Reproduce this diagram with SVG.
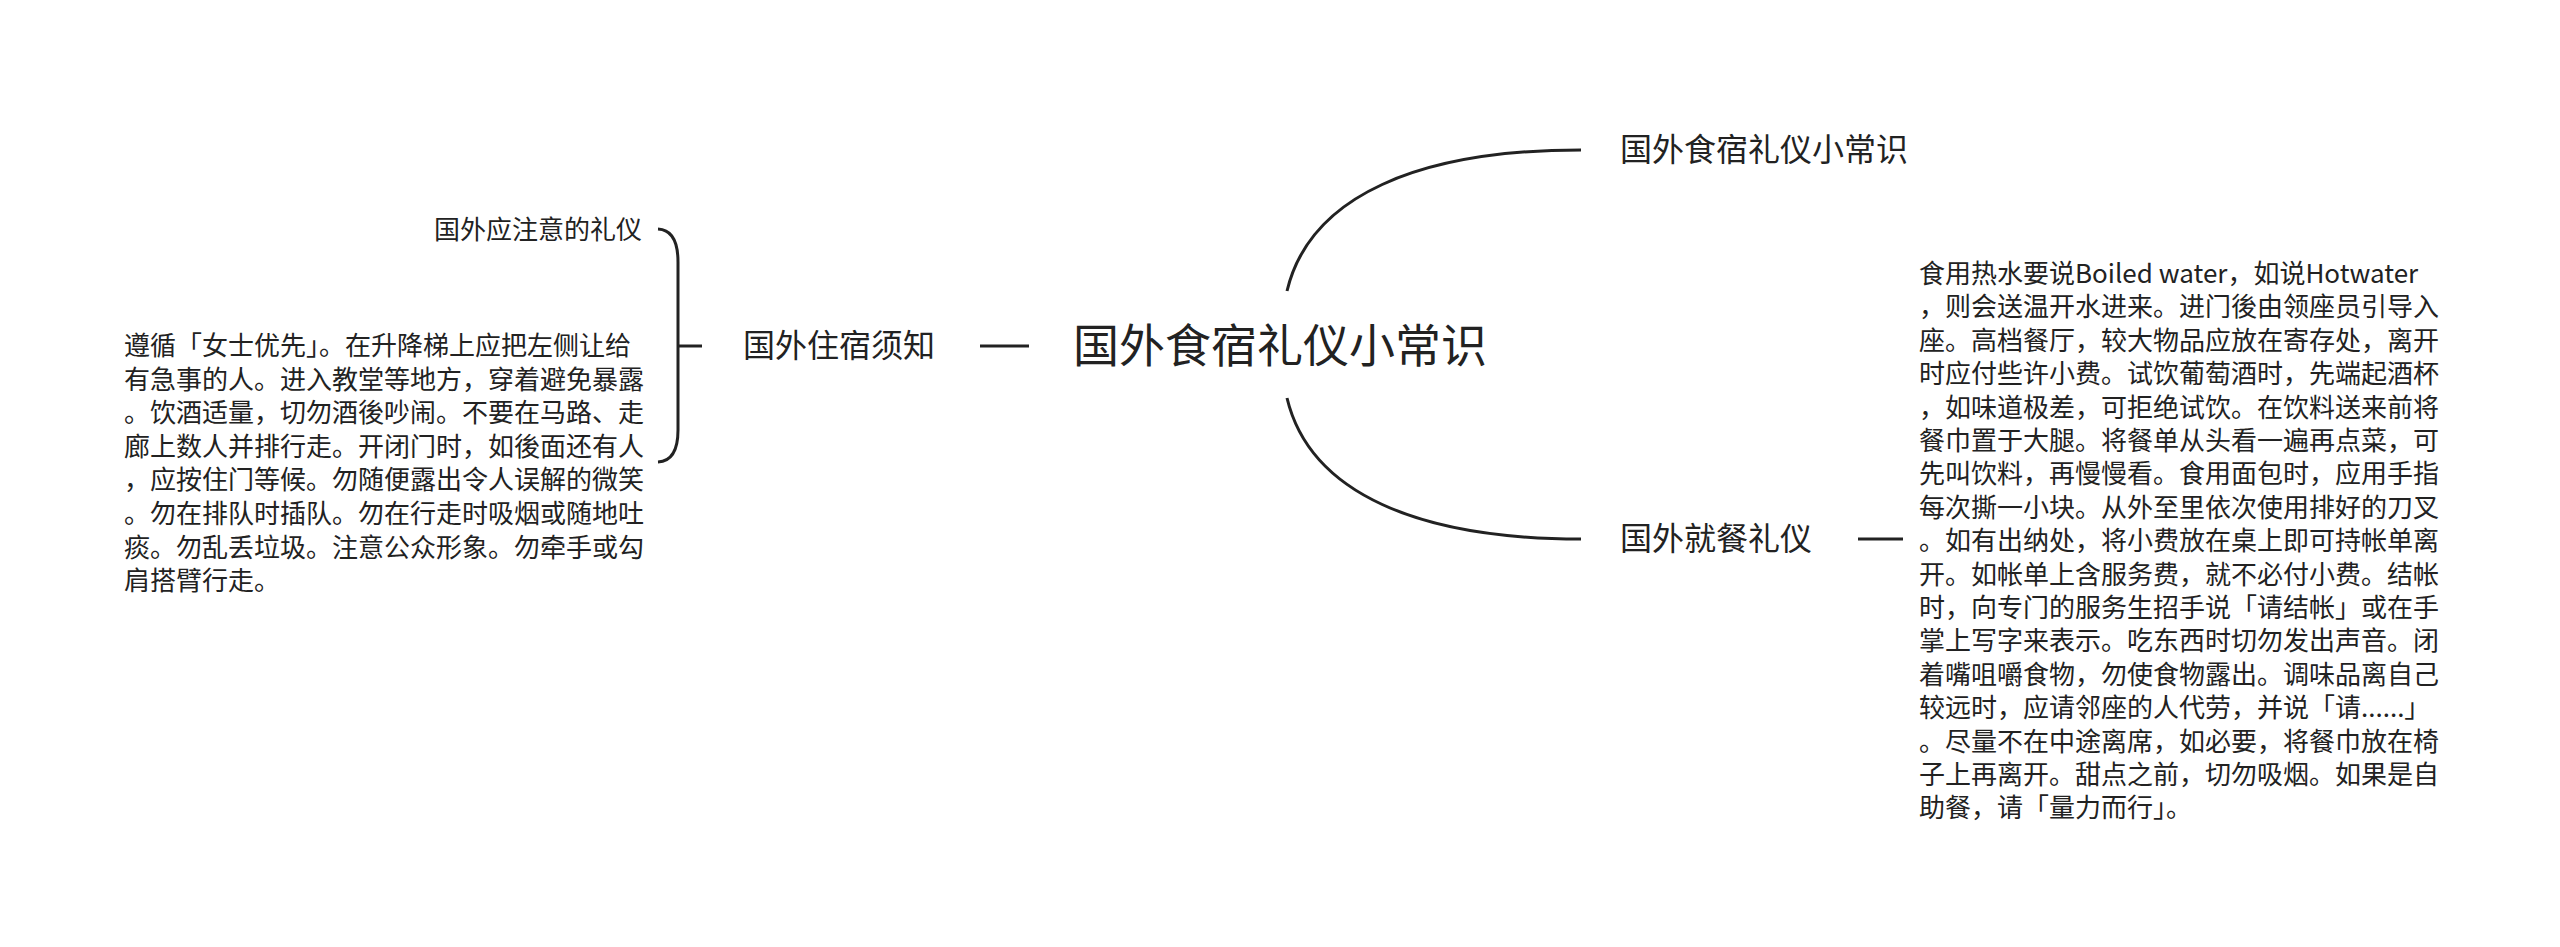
<svg xmlns="http://www.w3.org/2000/svg" width="2560" height="947" viewBox="0 0 2560 947">
<style>
text{font-family:"Noto Sans CJK SC","Noto Sans",sans-serif;fill:#222}
.c{fill:none;stroke:#222;stroke-width:3}
.b{font-size:26px}
.m{font-size:32px}
</style>
<rect width="2560" height="947" fill="#fff"/>
<g id="connectors">
<path class="c" d="M1287,291 C1310,195 1420,150 1581,150"/>
<path class="c" d="M1287,398 C1310,494 1420,539 1581,539"/>
<path class="c" d="M1858,539 H1903"/>
<path class="c" d="M980,346 H1029"/>
<path class="c" d="M658,229 Q678,230 678,262 L678,430 Q678,461 658,462"/>
<path class="c" d="M678,346 H702"/>
</g>
<g id="root"><text x="1280" y="362" font-size="46" text-anchor="middle">国外食宿礼仪小常识</text></g>
<g id="n-top"><text class="m" x="1620" y="161">国外食宿礼仪小常识</text></g>
<g id="n-dining"><text class="m" x="1620" y="550">国外就餐礼仪</text></g>
<g id="n-dining-text"><text class="b" x="1919" y="283">
<tspan x="1919" dy="0">食用热水要说Boiled water，如说Hotwater</tspan>
<tspan x="1919" dy="33.4">，则会送温开水进来。进门後由领座员引导入</tspan>
<tspan x="1919" dy="33.4">座。高档餐厅，较大物品应放在寄存处，离开</tspan>
<tspan x="1919" dy="33.4">时应付些许小费。试饮葡萄酒时，先端起酒杯</tspan>
<tspan x="1919" dy="33.4">，如味道极差，可拒绝试饮。在饮料送来前将</tspan>
<tspan x="1919" dy="33.4">餐巾置于大腿。将餐单从头看一遍再点菜，可</tspan>
<tspan x="1919" dy="33.4">先叫饮料，再慢慢看。食用面包时，应用手指</tspan>
<tspan x="1919" dy="33.4">每次撕一小块。从外至里依次使用排好的刀叉</tspan>
<tspan x="1919" dy="33.4">。如有出纳处，将小费放在桌上即可持帐单离</tspan>
<tspan x="1919" dy="33.4">开。如帐单上含服务费，就不必付小费。结帐</tspan>
<tspan x="1919" dy="33.4">时，向专门的服务生招手说「请结帐」或在手</tspan>
<tspan x="1919" dy="33.4">掌上写字来表示。吃东西时切勿发出声音。闭</tspan>
<tspan x="1919" dy="33.4">着嘴咀嚼食物，勿使食物露出。调味品离自己</tspan>
<tspan x="1919" dy="33.4">较远时，应请邻座的人代劳，并说「请......」</tspan>
<tspan x="1919" dy="33.4">。尽量不在中途离席，如必要，将餐巾放在椅</tspan>
<tspan x="1919" dy="33.4">子上再离开。甜点之前，切勿吸烟。如果是自</tspan>
<tspan x="1919" dy="33.4">助餐，请「量力而行」。</tspan>
</text></g>
<g id="n-lodging"><text class="m" x="743" y="357">国外住宿须知</text></g>
<g id="n-notice"><text class="b" x="642" y="239" text-anchor="end">国外应注意的礼仪</text></g>
<g id="n-lodging-text"><text class="b" x="124" y="355">
<tspan x="124" dy="0">遵循「女士优先」。在升降梯上应把左侧让给</tspan>
<tspan x="124" dy="33.6">有急事的人。进入教堂等地方，穿着避免暴露</tspan>
<tspan x="124" dy="33.6">。饮酒适量，切勿酒後吵闹。不要在马路、走</tspan>
<tspan x="124" dy="33.6">廊上数人并排行走。开闭门时，如後面还有人</tspan>
<tspan x="124" dy="33.6">，应按住门等候。勿随便露出令人误解的微笑</tspan>
<tspan x="124" dy="33.6">。勿在排队时插队。勿在行走时吸烟或随地吐</tspan>
<tspan x="124" dy="33.6">痰。勿乱丢垃圾。注意公众形象。勿牵手或勾</tspan>
<tspan x="124" dy="33.6">肩搭臂行走。</tspan>
</text></g>
</svg>
